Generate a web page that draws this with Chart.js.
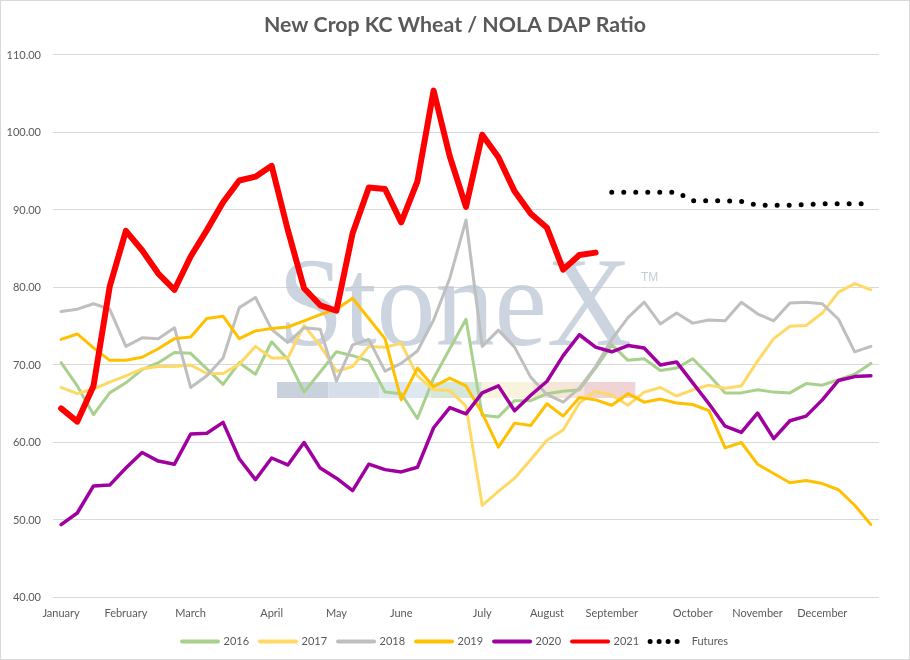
<!DOCTYPE html>
<html>
<head>
<meta charset="utf-8">
<title>New Crop KC Wheat / NOLA DAP Ratio</title>
<script src="https://cdn.jsdelivr.net/npm/chart.js@4.4.1/dist/chart.umd.min.js"></script>
<style>
  html, body { margin: 0; padding: 0; background: #fff; }
  #wrap { width: 910px; height: 660px; }
</style>
</head>
<body>
<div id="wrap"><canvas id="ratioChart" width="910" height="660"></canvas></div>
<script>
// weekly categories, month name on the first week of each month
const weekLabels = [
  "January", "", "", "", "February", "", "", "", "March", "", "", "", "",
  "April", "", "", "", "May", "", "", "", "June", "", "", "", "",
  "July", "", "", "", "August", "", "", "", "September", "", "", "", "",
  "October", "", "", "", "November", "", "", "", "December", "", "", ""
];

const y2016 = [70.3, 67.3, 63.6, 66.4, 67.7, 69.4, 70.3, 71.6, 71.5, 69.5,
  67.5, 70.3, 68.8, 73.0, 70.7, 66.5, 69.1, 71.7, 71.2, 70.5,
  66.5, 66.3, 63.1, 68.3, 72.1, 75.9, 63.5, 63.3, 65.4, 65.4,
  66.3, 66.6, 66.8, 69.6, 72.6, 70.6, 70.8, 69.3, 69.6, 70.8,
  68.7, 66.4, 66.4, 66.8, 66.5, 66.4, 67.6, 67.4, 68.1, 68.8, 70.2];

const y2017 = [67.1, 66.3, 66.9, 67.8, 68.6, 69.5, 69.8, 69.8, 70.0, 68.9,
  68.9, 70.1, 72.4, 70.9, 70.9, 75.1, 72.5, 69.2, 69.8, 72.4,
  72.3, 72.8, 68.6, 66.8, 66.7, 64.7, 51.9, 53.7, 55.4, 57.8,
  60.3, 61.6, 65.1, 66.6, 66.1, 64.8, 66.5, 67.1, 66.0, 66.8,
  67.4, 67.0, 67.3, 70.5, 73.4, 75.0, 75.1, 76.7, 79.4, 80.5, 79.7];

const y2018 = [76.9, 77.2, 77.9, 77.2, 72.4, 73.5, 73.4, 74.8, 67.1, 68.6,
  70.9, 77.4, 78.7, 74.6, 72.9, 74.8, 74.6, 67.9, 72.6, 73.3,
  69.2, 70.2, 71.8, 75.8, 81.2, 88.7, 72.4, 74.5, 72.3, 68.4,
  66.2, 65.2, 67.0, 69.8, 73.3, 76.1, 78.1, 75.3, 76.7, 75.4,
  75.8, 75.7, 78.1, 76.6, 75.7, 78.0, 78.1, 77.9, 75.9, 71.7, 72.4];

const y2019 = [73.3, 74.0, 72.2, 70.6, 70.6, 71.0, 72.1, 73.4, 73.6, 76.0,
  76.3, 73.4, 74.4, 74.7, 74.9, 75.7, 76.5, 77.2, 78.6, 76.0,
  73.4, 65.5, 69.6, 67.2, 68.3, 67.3, 63.8, 59.4, 62.5, 62.2,
  65.0, 63.4, 65.8, 65.5, 64.8, 66.3, 65.2, 65.6, 65.1, 64.9,
  64.1, 59.3, 60.0, 57.2, 56.0, 54.8, 55.1, 54.7, 53.9, 51.9, 49.4];

const y2020 = [49.4, 50.9, 54.4, 54.5, 56.7, 58.7, 57.6, 57.2, 61.1, 61.2,
  62.6, 57.9, 55.2, 58.0, 57.1, 60.0, 56.7, 55.4, 53.8, 57.2,
  56.5, 56.2, 56.8, 61.9, 64.5, 63.7, 66.4, 67.3, 64.1, 66.1,
  67.9, 71.2, 73.9, 72.3, 71.7, 72.5, 72.2, 70.0, 70.4, 67.7,
  65.0, 62.1, 61.3, 63.8, 60.5, 62.8, 63.4, 65.5, 68.0, 68.5, 68.6];

const y2021 = [64.4, 62.7, 67.3, 80.1, 87.3, 84.8, 81.8, 79.7, 84.0, 87.4,
  91.0, 93.8, 94.3, 95.7, 87.4, 79.9, 77.7, 77.0, 87.0, 92.9,
  92.7, 88.4, 93.7, 105.4, 96.9, 90.4, 99.7, 96.8, 92.4, 89.5,
  87.7, 82.3, 84.2, 84.5];

const futures = [null, null, null, null, null, null, null, null, null, null,
  null, null, null, null, null, null, null, null, null, null,
  null, null, null, null, null, null, null, null, null, null,
  null, null, null, null, 92.3, 92.3, 92.3, 92.3, 92.3, 91.2,
  91.2, 91.2, 91.1, 90.6, 90.6, 90.6, 90.7, 90.8, 90.8, 90.8, 90.8];

const FONT = "Lato, 'Open Sans', sans-serif";
const TEXT = "#595959";

function series(label, data, color, width, order, extra) {
  return Object.assign({
    label: label,
    data: data,
    borderColor: color,
    backgroundColor: color,
    borderWidth: width,
    pointRadius: 0,
    pointHoverRadius: 0,
    tension: 0,
    borderJoinStyle: "round",
    borderCapStyle: "round",
    spanGaps: false,
    order: order
  }, extra || {});
}

// white page, grey frame, and the faint StoneX mark behind the lines
const backdrop = {
  id: "backdrop",
  beforeDraw(chart) {
    const ctx = chart.ctx;
    ctx.save();
    ctx.fillStyle = "#ffffff";
    ctx.fillRect(0, 0, chart.width, chart.height);
    ctx.strokeStyle = "#d9d9d9";
    ctx.lineWidth = 1;
    ctx.strokeRect(0.5, 0.5, chart.width - 1, chart.height - 1);
    ctx.restore();
  },
  beforeDatasetsDraw(chart) {
    const ctx = chart.ctx;
    ctx.save();
    ctx.font = "128px 'Liberation Serif', 'DejaVu Serif', serif";
    ctx.textBaseline = "alphabetic";
    ctx.fillStyle = "rgba(186, 198, 212, 0.75)";
    const w = ctx.measureText("StoneX").width;
    ctx.translate(278, 345);
    ctx.scale(354 / w, 1);
    ctx.fillText("StoneX", 0, 0);
    ctx.restore();

    ctx.save();
    ctx.font = "12px 'Liberation Sans', sans-serif";
    ctx.fillStyle = "rgba(186, 198, 212, 0.9)";
    ctx.fillText("TM", 641, 278);
    const band = ["#c9d1dc", "#d5dee9", "#dde8f1", "#d7e6da", "#f7f3dc", "#f5e6d8", "#efd3d5"];
    band.forEach((c, i) => {
      ctx.fillStyle = c;
      ctx.fillRect(277 + i * 51.2, 382, 51.2, 16);
    });
    ctx.restore();
  }
};

new Chart(document.getElementById("ratioChart"), {
  type: "line",
  data: {
    labels: weekLabels,
    datasets: [
      series("2016", y2016, "#a9d18e", 3, 7),
      series("2017", y2017, "#ffd966", 3, 6),
      series("2018", y2018, "#bfbfbf", 3, 5),
      series("2019", y2019, "#ffc000", 3, 4),
      series("2020", y2020, "#a000a0", 3.5, 3),
      series("2021", y2021, "#ff0000", 6, 2),
      series("Futures", futures, "#000000", 5, 1, { borderDash: [0, 12] })
    ]
  },
  options: {
    responsive: false,
    animation: false,
    devicePixelRatio: 1,
    layout: { padding: { left: 0, right: 0, top: 0, bottom: 3 } },
    scales: {
      x: {
        offset: true,
        grid: { display: false, drawTicks: false },
        border: { display: false },
        ticks: {
          autoSkip: false,
          maxRotation: 0,
          minRotation: 0,
          padding: 9,
          color: TEXT,
          font: { family: FONT, size: 11 }
        },
        afterFit(scale) { scale.width = 826; scale.height = 27.5; }
      },
      y: {
        min: 40,
        max: 110,
        border: { display: false },
        grid: { color: "#d9d9d9", drawTicks: false },
        ticks: {
          stepSize: 10,
          padding: 12,
          color: TEXT,
          font: { family: FONT, size: 11 },
          callback: (v) => v.toFixed(2)
        },
        afterFit(scale) { scale.width = 53; }
      },
      // empty right-hand strip so the title and legend centre on the page
      gutter: {
        type: "linear",
        position: "right",
        grid: { display: false, drawTicks: false },
        border: { display: false },
        ticks: { display: false },
        afterFit(scale) { scale.width = 31; }
      }
    },
    plugins: {
      title: {
        display: true,
        text: "New Crop KC Wheat / NOLA DAP Ratio",
        color: TEXT,
        font: { family: FONT, size: 21.3, weight: "bold" },
        padding: { top: 12, bottom: 17.4 }
      },
      legend: {
        position: "bottom",
        labels: {
          usePointStyle: true,
          pointStyle: "line",
          pointStyleWidth: 36,
          padding: 11,
          color: TEXT,
          font: { family: FONT, size: 11 },
          sort: (a, b) => a.datasetIndex - b.datasetIndex,
          generateLabels(chart) {
            const base = Chart.defaults.plugins.legend.labels.generateLabels(chart);
            return base.map((item) => {
              const ds = chart.data.datasets[item.datasetIndex];
              item.pointStyle = "line";
              item.lineWidth = ds.label === "Futures" ? 5 : 4;
              item.lineCap = "round";
              item.lineDash = ds.label === "Futures" ? [0, 9] : [];
              return item;
            });
          }
        }
      },
      tooltip: { enabled: false }
    }
  },
  plugins: [backdrop]
});
</script>
</body>
</html>
